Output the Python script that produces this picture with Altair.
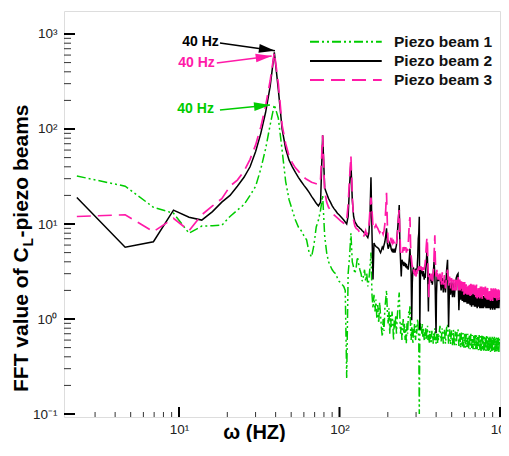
import altair as alt
import pandas as pd

# FFT bin grid (Hz): every bin up to ~416 Hz, every 3rd bin above
DF_HZ = 2.31
bins = list(range(1, 181)) + list(range(183, 433, 3))
freq = [round(k * DF_HZ, 3) for k in bins]

series_names = ["Piezo beam 1", "Piezo beam 2", "Piezo beam 3"]
series_colors = ["#00cc00", "#000000", "#ff1aa8"]

beam1 = [
    32, 25, 15, 13, 8.0, 9.5, 9.6, 9.7, 12, 14,
    16, 20, 25, 38, 62, 110, 180, 130, 60, 28,
    18, 14, 11, 9.3, 8.5, 7.5, 6.8, 5.0, 4.5, 6.0,
    9.3, 11, 14, 20, 7.5, 5.0, 4.0, 3.6, 3.3, 3.1,
    3.0, 2.7, 2.5, 2.4, 2.3, 2.2, 2.0, 0.24, 3.0, 4.5,
    8.0, 4.0, 3.5, 3.0, 3.5, 4.5, 3.8, 3.3, 3.0, 2.5,
    2.8, 3.3, 2.5, 3.0, 2.2, 2.6, 3.5, 5.0, 1.8, 1.3,
    1.8, 1.2, 1.6, 1.0, 1.4, 0.9, 1.5, 1.1, 0.8, 0.65,
    1.0, 0.75, 1.3, 1.6, 2.0, 1.2, 0.9, 1.3, 0.7, 1.1,
    0.8, 1.2, 0.9, 0.6, 1.0, 0.8, 1.1, 0.7, 1.0, 1.3,
    1.6, 1.9, 1.0, 0.7, 0.9, 0.6, 0.8, 1.0, 0.7, 0.9,
    0.6, 0.8, 0.55, 0.9, 0.7, 1.0, 1.2, 1.1, 1.4, 0.8,
    0.6, 0.9, 0.7, 0.55, 0.8, 0.65, 0.9, 0.7, 0.6, 0.85,
    0.7, 0.9, 1.0, 0.8, 0.6, 0.1, 0.7, 0.9, 0.75, 0.85,
    0.7, 0.9, 0.65, 0.8, 0.7, 0.6, 0.75, 0.65, 0.8, 0.6,
    0.7, 0.75, 0.85, 0.6, 0.7, 0.65, 0.55, 0.75, 0.6, 0.7,
    0.55, 0.65, 0.75, 0.6, 0.68, 0.55, 0.7, 0.6, 0.72, 0.8,
    0.6, 0.65, 0.55, 0.7, 0.6, 0.66, 0.55, 0.7, 0.6, 0.65,
    0.85, 0.58, 0.8, 0.55, 0.78, 0.55, 0.8, 0.88, 0.55, 0.78,
    0.54, 0.76, 0.53, 0.77, 0.52, 0.74, 0.53, 0.75, 0.78, 0.52,
    0.73, 0.5, 0.72, 0.51, 0.71, 0.5, 0.72, 0.5, 0.7, 0.49,
    0.7, 0.49, 0.69, 0.48, 0.7, 0.49, 0.68, 0.48, 0.69, 0.48,
    0.68, 0.47, 0.68, 0.48, 0.67, 0.47, 0.68, 0.47, 0.66, 0.46,
    0.67, 0.47, 0.66, 0.46, 0.67, 0.47, 0.65, 0.46, 0.66, 0.46,
    0.65, 0.46, 0.64, 0.46, 0.65, 0.45, 0.64, 0.46, 0.65, 0.45,
    0.63, 0.46, 0.65, 0.45, 0.63, 0.46, 0.64, 0.45, 0.63, 0.46,
    0.64, 0.45, 0.62, 0.52,
]

beam2 = [
    19, 5.7, 6.5, 14, 11.8, 11, 13.5, 17, 20, 25,
    31, 40, 58, 90, 150, 280, 640, 260, 100, 62,
    47, 40, 35, 31, 28, 25.5, 23.5, 21.5, 19.5, 18,
    16.5, 15.5, 17, 86, 24, 21, 18.5, 17, 15.5, 14.5,
    13.8, 13, 12.5, 12, 11.5, 11, 10.5, 10, 12, 25,
    45, 18, 12, 10.5, 10, 9.5, 9.3, 9, 8.8, 8.5,
    8.3, 8.0, 7.8, 7.5, 7.2, 8.0, 12, 31, 8.0, 2.6,
    6.3, 6.0, 5.8, 5.7, 5.6, 5.5, 5.2, 5.0, 5.3, 5.7,
    5.5, 6.0, 6.5, 7.5, 9.0, 6.3, 5.5, 5.8, 6.3, 6.0,
    5.4, 5.2, 5.5, 5.0, 5.3, 5.0, 5.5, 6.0, 7.5, 9.5,
    12, 15.8, 6.0, 4.0, 2.8, 4.2, 4.0, 3.8, 4.0, 3.6,
    3.9, 3.5, 3.8, 3.4, 3.6, 3.3, 3.8, 4.5, 5.5, 4.0,
    3.0, 0.97, 2.4, 3.2, 3.5, 3.0, 3.3, 2.9, 3.4, 3.0,
    3.2, 3.5, 4.5, 7.0, 8.0, 11.9, 0.77, 2.5, 3.3, 3.0,
    3.5, 3.1, 2.8, 3.2, 2.9, 2.6, 3.0, 2.7, 3.3, 3.8,
    4.5, 5.5, 4.2, 2.2, 1.2, 2.6, 3.0, 2.7, 2.9, 2.5,
    2.8, 2.4, 2.7, 2.3, 2.6, 2.9, 3.4, 4.0, 3.5, 2.8,
    2.0, 1.1, 0.71, 1.8, 2.4, 3.0, 2.6, 2.9, 2.5, 2.8,
    2.8, 2.0, 2.7, 1.9, 2.6, 1.9, 3.2, 4.2, 0.82, 2.4,
    1.8, 2.5, 1.7, 2.4, 1.7, 2.3, 2.7, 2.9, 3.0, 1.24,
    2.2, 1.6, 2.1, 1.55, 2.0, 1.5, 2.0, 1.5, 1.95, 1.45,
    1.95, 1.45, 1.9, 1.4, 1.9, 1.35, 1.85, 1.4, 1.85, 1.35,
    1.8, 1.35, 1.85, 1.3, 1.8, 1.35, 1.8, 1.3, 1.75, 1.3,
    1.8, 1.3, 1.75, 1.3, 1.75, 1.35, 1.75, 1.3, 1.7, 1.3,
    1.75, 1.3, 1.7, 1.3, 1.75, 1.25, 1.7, 1.3, 1.7, 1.25,
    1.7, 1.3, 1.7, 1.25, 1.7, 1.3, 1.7, 1.3, 1.75, 1.3,
    1.7, 1.3, 1.7, 1.55,
]

beam3 = [
    12, 12.5, 8.3, 11.5, 8.5, 12.5, 15.5, 18.5, 25, 29,
    36, 48, 68, 105, 175, 320, 640, 300, 110, 70,
    52, 44, 39, 36, 33, 31, 29.5, 28.5, 27.5, 27,
    26.5, 26, 30, 86, 22, 17, 15, 14, 13, 12.5,
    12, 11.6, 11.2, 10.8, 10.5, 10.2, 10, 11, 16, 30,
    52, 20, 11, 9.5, 9, 8.8, 8.5, 8.1, 7.8, 7.5,
    7.3, 7.8, 8.5, 7.6, 8.9, 9.5, 14, 19, 14, 9.3,
    10, 9.3, 9.8, 9.3, 9.0, 8.5, 8.1, 8.5, 7.8, 8.3,
    7.8, 8.5, 10, 14, 21.3, 10, 6.3, 7.3, 7.0, 7.3,
    6.5, 6.8, 6.3, 6.6, 6.3, 6.0, 6.5, 6.2, 7.5, 9.5,
    12, 14, 8.0, 5.0, 5.2, 5.5, 5.0, 5.7, 5.2, 5.8,
    5.3, 5.7, 5.0, 5.5, 5.2, 6.0, 8.0, 10.5, 11.8, 6.0,
    4.6, 4.0, 3.5, 3.8, 3.3, 3.0, 3.3, 2.8, 3.1, 2.8,
    3.3, 3.0, 3.5, 3.2, 3.6, 3.3, 3.5, 3.2, 3.6, 3.3,
    3.5, 3.2, 3.4, 3.1, 3.5, 3.3, 3.6, 3.9, 4.5, 5.5,
    6.5, 7.3, 6.0, 3.5, 2.8, 1.7, 2.4, 2.8, 3.1, 2.7,
    3.0, 2.6, 2.9, 2.5, 2.8, 3.0, 3.5, 4.5, 6.0, 7.6,
    4.5, 3.3, 2.8, 3.0, 3.3, 2.7, 3.0, 2.6, 2.9, 2.5,
    3.0, 2.2, 3.1, 2.3, 2.9, 2.1, 2.8, 3.3, 2.2, 2.8,
    2.1, 2.7, 2.0, 2.6, 2.0, 2.6, 2.0, 2.7, 2.9, 2.0,
    2.6, 1.9, 2.5, 1.85, 2.45, 1.8, 2.45, 1.85, 2.4, 1.8,
    2.4, 1.8, 2.35, 1.75, 2.35, 1.75, 2.3, 1.7, 2.3, 1.75,
    2.25, 1.7, 2.3, 1.65, 2.25, 1.7, 2.2, 1.65, 2.2, 1.7,
    2.2, 1.6, 2.15, 1.65, 2.15, 1.6, 2.2, 1.65, 2.1, 1.6,
    2.15, 1.6, 2.1, 1.6, 2.1, 1.55, 2.1, 1.6, 2.05, 1.55,
    2.1, 1.6, 2.05, 1.55, 2.1, 1.6, 2.05, 1.55, 2.0, 1.6,
    2.05, 1.55, 2.0, 1.8,
]

# tick positions
x_major = [10, 100, 1000]
x_minor = [3, 4, 5, 6, 7, 8, 9, 20, 30, 40, 50, 60, 70, 80, 90,
           200, 300, 400, 500, 600, 700, 800, 900]
y_major = [0.1, 1, 10, 100, 1000]
y_minor = [0.2, 0.3, 0.4, 0.5, 0.6, 0.7, 0.8, 0.9, 2, 3, 4, 5, 6, 7, 8, 9,
           20, 30, 40, 50, 60, 70, 80, 90, 200, 300, 400, 500, 600, 700, 800, 900]

# annotations "40 Hz"
ann_text_x = [17.7, 16.7, 16.5]
ann_text_y = [829, 495, 162]
arrow_x = [18.0, 17.2, 18.0]
arrow_y = [804, 495, 158.5]
arrow_x2 = [39.6, 37.8, 36.9]
arrow_y2 = [667, 587, 179]
arrow_angle = [8, 352.7, 354.3]
ann_colors = ["#000000", "#ff1aa8", "#00cc00"]

# legend placement (data coords)
leg_x1, leg_x2, leg_tx = 65.5, 183.3, 218.6
leg_y = [830, 520, 328]

FONT = "Liberation Sans"
W, H = 436, 406
xs = alt.Scale(type="log", domain=[1.921, 1000], nice=False)
ys = alt.Scale(type="log", domain=[0.093, 1746], nice=False)

sup = ("datum.value < 0.5 ? '10\u207b\u00b9' : datum.value < 5 ? '10\u2070' : "
       "datum.value < 50 ? '10\u00b9' : datum.value < 500 ? '10\u00b2' : '10\u00b3'")

xax = alt.Axis(values=x_major, labelExpr=sup, ticks=False, tickSize=0, domain=False,
               grid=False, labelFontSize=13.5, labelPadding=5, labelColor="#222222",
               labelFont=FONT, labelFlush=False, labelOverlap=False,
               title="\u03c9 (HZ)", titleFont=FONT, titleFontSize=20,
               titleFontWeight="bold", titleColor="#000000", titleX=190, titleY=21,
               titleAlign="center", titleBaseline="alphabetic")
yax = alt.Axis(values=y_major, labelExpr=sup, ticks=False, tickSize=0, domain=False,
               grid=False, labelFontSize=13.5, labelPadding=7, labelColor="#222222",
               labelFont=FONT, labelFlush=False, labelOverlap=False, title=None)

dashes = [[], [9, 3, 2, 3, 2, 3], [14, 7]]


def line_layer(vals, color, dash, width):
    d = pd.DataFrame({"f": freq, "v": vals})
    kw = dict(color=color, strokeWidth=width, clip=True, interpolate="linear")
    if dash:
        kw["strokeDash"] = dash
    return alt.Chart(d).mark_line(**kw).encode(
        x=alt.X("f:Q", scale=xs, axis=xax),
        y=alt.Y("v:Q", scale=ys, axis=yax),
    )


lines = [
    line_layer(beam1, series_colors[0], dashes[1], 1.5),
    line_layer(beam2, series_colors[1], dashes[0], 1.5),
    line_layer(beam3, series_colors[2], dashes[2], 1.7),
]

# inside ticks
xt_major = alt.Chart(pd.DataFrame({"t": x_major})).mark_rule(color="black", strokeWidth=2).encode(
    x=alt.X("t:Q", scale=xs, axis=xax), y=alt.value(H), y2=alt.value(H - 10))
xt_minor = alt.Chart(pd.DataFrame({"t": x_minor})).mark_rule(color="#333333", strokeWidth=1).encode(
    x=alt.X("t:Q", scale=xs, axis=xax), y=alt.value(H), y2=alt.value(H - 5))
yt_major = alt.Chart(pd.DataFrame({"t": y_major})).mark_rule(color="black", strokeWidth=2).encode(
    y=alt.Y("t:Q", scale=ys, axis=yax), x=alt.value(0), x2=alt.value(11))
yt_minor = alt.Chart(pd.DataFrame({"t": y_minor})).mark_rule(color="#333333", strokeWidth=1).encode(
    y=alt.Y("t:Q", scale=ys, axis=yax), x=alt.value(0), x2=alt.value(7))

# annotation arrows and text
arr_df = pd.DataFrame({"x": arrow_x, "y": arrow_y, "x2": arrow_x2, "y2": arrow_y2,
                       "c": ann_colors, "a": arrow_angle})
shafts = alt.Chart(arr_df).mark_rule(strokeWidth=1.6).encode(
    x=alt.X("x:Q", scale=xs, axis=xax), y=alt.Y("y:Q", scale=ys, axis=yax),
    x2="x2:Q", y2="y2:Q", color=alt.Color("c:N", scale=None))
heads = alt.Chart(arr_df).mark_point(shape="M0,0L-4,-1.1L-4,1.1Z", size=64, filled=True,
                                     opacity=1, strokeWidth=0).encode(
    x=alt.X("x2:Q", scale=xs, axis=xax), y=alt.Y("y2:Q", scale=ys, axis=yax),
    color=alt.Color("c:N", scale=None), angle=alt.Angle("a:Q", scale=None))
ann_df = pd.DataFrame({"x": ann_text_x, "y": ann_text_y, "c": ann_colors,
                       "t": ["40 Hz", "40 Hz", "40 Hz"]})
ann_txt = alt.Chart(ann_df).mark_text(align="right", baseline="middle", font=FONT,
                                      fontSize=14, fontWeight="bold").encode(
    x=alt.X("x:Q", scale=xs, axis=xax), y=alt.Y("y:Q", scale=ys, axis=yax),
    text="t:N", color=alt.Color("c:N", scale=None))

# legend
leg_layers = []
for i in range(3):
    ld = pd.DataFrame({"x": [leg_x1], "x2": [leg_x2], "y": [leg_y[i]], "tx": [leg_tx],
                       "t": [series_names[i]]})
    kw = dict(color=series_colors[i], strokeWidth=2)
    if dashes[[1, 0, 2][i]]:
        kw["strokeDash"] = dashes[[1, 0, 2][i]]
    leg_layers.append(alt.Chart(ld).mark_rule(**kw).encode(
        x=alt.X("x:Q", scale=xs, axis=xax), x2="x2:Q", y=alt.Y("y:Q", scale=ys, axis=yax)))
    leg_layers.append(alt.Chart(ld).mark_text(align="left", baseline="middle", font=FONT,
                                              fontSize=15.5, fontWeight="bold",
                                              color="#111111").encode(
        x=alt.X("tx:Q", scale=xs, axis=xax), y=alt.Y("y:Q", scale=ys, axis=yax), text="t:N"))

# y-axis title with subscript
title_df = pd.DataFrame({"a": [0]})
yt1 = alt.Chart(title_df).mark_text(text="FFT value of C", angle=270, align="left",
                                    baseline="alphabetic", font=FONT, fontSize=21,
                                    fontWeight="bold", color="black").encode(
    x=alt.value(-36), y=alt.value(381))
yt2 = alt.Chart(title_df).mark_text(text="L", angle=270, align="left",
                                    baseline="alphabetic", font=FONT, fontSize=14,
                                    fontWeight="bold", color="black").encode(
    x=alt.value(-31), y=alt.value(235.5))
yt3 = alt.Chart(title_df).mark_text(text="-piezo beams", angle=270, align="left",
                                    baseline="alphabetic", font=FONT, fontSize=21,
                                    fontWeight="bold", color="black").encode(
    x=alt.value(-36), y=alt.value(226.5))

chart = alt.layer(
    *lines, xt_minor, xt_major, yt_minor, yt_major, shafts, heads, ann_txt,
    *leg_layers, yt1, yt2, yt3,
).properties(
    width=W, height=H,
    autosize=alt.AutoSizeParams(type="none"),
    padding={"left": 56, "top": 3, "right": 1, "bottom": 25},
).configure_view(stroke="black", strokeWidth=2).configure(background="white")

chart.save("out.html", embed_options={"renderer": "svg", "actions": False})
